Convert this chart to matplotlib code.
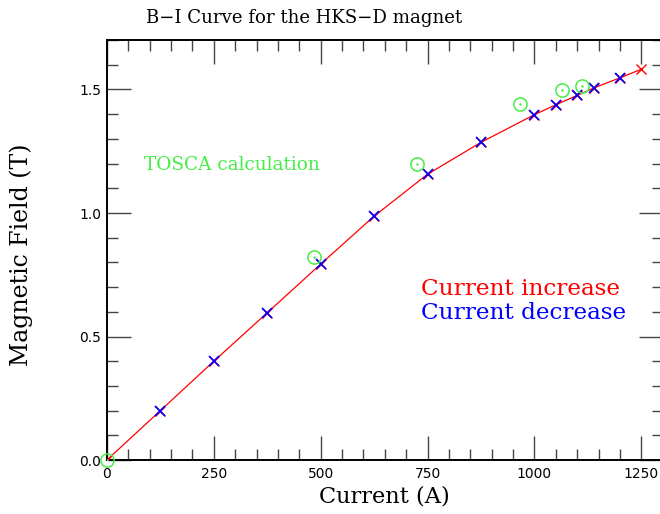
import numpy as np
import matplotlib
matplotlib.use("Agg")
import matplotlib.pyplot as plt
from matplotlib.ticker import MultipleLocator

# measured B-I points (current increase / decrease)
inc_current = [0, 125, 250, 375, 500, 625, 750, 875, 1000, 1050, 1100, 1140, 1200, 1250]
inc_field = [0.0, 0.20, 0.40, 0.596, 0.793, 0.987, 1.157, 1.286, 1.398, 1.438, 1.476, 1.507, 1.547, 1.582]
dec_current = [125, 250, 375, 500, 625, 750, 875, 1000, 1050, 1100, 1140, 1200]
dec_field = [0.20, 0.40, 0.596, 0.793, 0.987, 1.157, 1.286, 1.398, 1.438, 1.476, 1.507, 1.547]

# TOSCA calculation
tosca_current = [0, 484, 726, 967, 1064, 1112]
tosca_field = [0.0, 0.82, 1.198, 1.44, 1.496, 1.516]

green = "#44ee44"
serif = "DejaVu Serif"

fig = plt.figure(figsize=(6.6, 5.14), dpi=100)
ax = fig.add_axes([0.162, 0.105, 0.842, 0.817])

ax.plot(inc_current, inc_field, color="red", lw=0.9, zorder=2)
ax.plot(inc_current, inc_field, "x", color="red", ms=7, mew=1.0, zorder=3)
ax.plot(dec_current, dec_field, "x", color="blue", ms=7, mew=1.2, zorder=4)
ax.plot(tosca_current, tosca_field, "o", mfc="none", mec=green, ms=9.5, mew=1.1, zorder=5, clip_on=False)
ax.plot(tosca_current, tosca_field, ".", color=green, ms=1.5, zorder=5)

ax.set_xlim(0, 1300)
ax.set_ylim(0, 1.7)
ax.xaxis.set_major_locator(MultipleLocator(250))
ax.xaxis.set_minor_locator(MultipleLocator(50))
ax.yaxis.set_major_locator(MultipleLocator(0.5))
ax.yaxis.set_minor_locator(MultipleLocator(0.1))
ax.yaxis.set_major_formatter(matplotlib.ticker.FormatStrFormatter("%.1f"))
ax.tick_params(which="both", direction="in", top=True, right=True, width=1.0, color="#444444", labelsize=10)
ax.tick_params(which="major", length=17)
ax.tick_params(which="minor", length=8)
ax.tick_params(axis="x", pad=5)
ax.tick_params(axis="y", pad=4)
for s in ax.spines.values():
    s.set_linewidth(1.4)

fig.text(304 / 660, 1 - 18 / 514, "B\u2212I Curve for the HKS\u2212D magnet", family=serif,
         fontsize=13.1, ha="center", va="center")
ax.set_xlabel("Current (A)", family=serif, fontsize=16.2, labelpad=3)
ax.set_ylabel("Magnetic Field (T)", family=serif, fontsize=17)
ax.yaxis.set_label_coords(-0.133, 0.49)

ax.text(87, 1.193, "TOSCA calculation", color=green, family=serif, fontsize=13.3, va="center")
ax.text(734, 0.691, "Current increase", color="red", family=serif, fontsize=16.7, va="center")
ax.text(734, 0.594, "Current decrease", color="blue", family=serif, fontsize=16.7, va="center")

fig.savefig("out.png", dpi=100)
